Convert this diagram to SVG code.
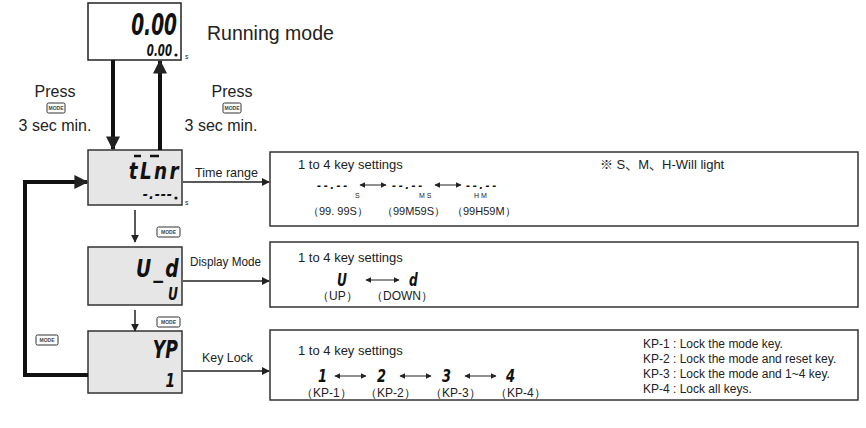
<svg xmlns="http://www.w3.org/2000/svg" width="866" height="428" viewBox="0 0 866 428">
<style>
.t{font-family:"Liberation Sans",Arial,sans-serif;fill:#222}
.lbl{font-family:"Liberation Sans",Arial,sans-serif;fill:#222;font-size:13px}
.seg{font-family:"DejaVu Sans",sans-serif;font-weight:bold;font-style:italic;fill:#111}
.disp{fill:#e6e6e6;stroke:#333;stroke-width:1.5}
.box{fill:#fff;stroke:#333;stroke-width:1.5}
.btn{fill:#fff;stroke:#333;stroke-width:1}
.btnt{font-family:"Liberation Sans",Arial,sans-serif;font-size:5px;font-weight:bold;fill:#444}
.con{stroke:#222;stroke-width:1.5;fill:none}
.dbl{stroke:#222;stroke-width:1;fill:none}
</style>
<defs>
<marker id="ah" viewBox="0 0 10 10" refX="9" refY="5" markerWidth="8" markerHeight="8" markerUnits="userSpaceOnUse" orient="auto"><path d="M0,0 L10,5 L0,10 z" fill="#222"/></marker>
<marker id="ahb" viewBox="0 0 10 10" refX="9" refY="5" markerWidth="14" markerHeight="14" markerUnits="userSpaceOnUse" orient="auto"><path d="M0,0 L10,5 L0,10 z" fill="#222"/></marker>
<marker id="ahs" viewBox="0 0 10 10" refX="9" refY="5" markerWidth="6" markerHeight="6" markerUnits="userSpaceOnUse" orient="auto-start-reverse"><path d="M0,0 L10,5 L0,10 z" fill="#222"/></marker>
</defs>

<g id="running">
<rect x="88" y="3" width="93" height="57" fill="#fff" stroke="#222" stroke-width="1.5"/>
<text class="seg" font-size="30" text-anchor="end" transform="translate(177 35) scale(0.62 1)">0.00</text>
<text class="seg" font-size="15" text-anchor="end" transform="translate(172 56) scale(0.68 1)">0.00</text>
<circle cx="176" cy="55" r="1.6" fill="#111"/>
<text class="t" x="185" y="59" font-size="7">s</text>
<text class="t" x="207" y="40" font-size="19.5">Running mode</text>
</g>

<g id="press-left">
<text class="t" x="55" y="97" font-size="16" text-anchor="middle">Press</text>
<rect class="btn" x="47" y="103" width="18" height="10" rx="1.5"/>
<text class="btnt" x="56" y="110" text-anchor="middle">MODE</text>
<text class="t" x="55" y="131" font-size="16" text-anchor="middle">3 sec min.</text>
</g>
<g id="press-right">
<text class="t" x="232" y="97" font-size="16" text-anchor="middle">Press</text>
<rect class="btn" x="223" y="103" width="18" height="10" rx="1.5"/>
<text class="btnt" x="232" y="110" text-anchor="middle">MODE</text>
<text class="t" x="221" y="131" font-size="16" text-anchor="middle">3 sec min.</text>
</g>

<g id="time-range">
<rect class="disp" x="88" y="150" width="94" height="55"/>
<text class="seg" font-size="23" text-anchor="end" letter-spacing="3" transform="translate(181 179) scale(0.8 1)">tLnr</text>
<line x1="134" y1="156" x2="141" y2="156" stroke="#111" stroke-width="2.5"/>
<line x1="150" y1="156" x2="159" y2="156" stroke="#111" stroke-width="2.5"/>
<text class="seg" font-size="14" text-anchor="end" letter-spacing="1" transform="translate(173 199) scale(0.9 1)">-.---</text>
<circle cx="176" cy="198" r="1.6" fill="#111"/>
<text class="t" x="185" y="205" font-size="7">s</text>
</g>

<g id="display-mode">
<rect class="disp" x="88" y="247" width="94" height="58"/>
<text class="seg" font-size="24" text-anchor="end" letter-spacing="3" transform="translate(181 277) scale(0.78 1)">U_d</text>
<text class="seg" font-size="17" text-anchor="end" transform="translate(178 300) scale(0.72 1)">U</text>
</g>

<g id="key-lock">
<rect class="disp" x="88" y="331" width="94" height="62"/>
<text class="seg" font-size="24" text-anchor="end" transform="translate(178 358) scale(0.72 1)">YP</text>
<text class="seg" font-size="19" text-anchor="end" transform="translate(175 387) scale(0.72 1)">1</text>
</g>

<g id="box-time">
<rect class="box" x="270" y="152" width="588" height="74"/>
<text class="t" x="298" y="169" font-size="13">1 to 4 key settings</text>
<text x="600" y="169" font-size="13" fill="#222" font-family="Liberation Sans, Noto Sans CJK SC, sans-serif">※ S、M、H-Will light</text>
<text class="seg" x="317" y="189" font-size="10" letter-spacing="2.5">--.--</text>
<text class="seg" x="392" y="189" font-size="10" letter-spacing="2.5">--.--</text>
<text class="seg" x="466" y="189" font-size="10" letter-spacing="2.5">--.--</text>
<line class="dbl" x1="360" y1="185" x2="386" y2="185" marker-start="url(#ahs)" marker-end="url(#ahs)"/>
<line class="dbl" x1="435" y1="185" x2="461" y2="185" marker-start="url(#ahs)" marker-end="url(#ahs)"/>
<text class="t" x="355" y="198" font-size="7">S</text>
<text class="t" x="419" y="198" font-size="7">M S</text>
<text class="t" x="474" y="198" font-size="7">H M</text>
<text class="t" x="308" y="215" font-size="11">（99. 99S）</text>
<text class="t" x="382" y="215" font-size="11">（99M59S）</text>
<text class="t" x="452" y="215" font-size="11">（99H59M）</text>
</g>

<g id="box-display">
<rect class="box" x="270" y="242" width="588" height="65"/>
<text class="t" x="298" y="262" font-size="13">1 to 4 key settings</text>
<text class="seg" font-size="17" transform="translate(337 286) scale(0.72 1)">U</text>
<text class="seg" font-size="17" transform="translate(409 286) scale(0.72 1)">d</text>
<line class="dbl" x1="366" y1="280" x2="399" y2="280" marker-start="url(#ahs)" marker-end="url(#ahs)"/>
<text class="t" x="317" y="300" font-size="12">（UP）</text>
<text class="t" x="371" y="300" font-size="12">（DOWN）</text>
</g>

<g id="box-keylock">
<rect class="box" x="270" y="330" width="588" height="70"/>
<text class="t" x="298" y="355" font-size="13">1 to 4 key settings</text>
<text class="seg" font-size="18" transform="translate(318 382) scale(0.72 1)">1</text>
<text class="seg" font-size="18" transform="translate(377 382) scale(0.72 1)">2</text>
<text class="seg" font-size="18" transform="translate(442 382) scale(0.72 1)">3</text>
<text class="seg" font-size="18" transform="translate(506 382) scale(0.72 1)">4</text>
<line class="dbl" x1="335" y1="376" x2="366" y2="376" marker-start="url(#ahs)" marker-end="url(#ahs)"/>
<line class="dbl" x1="400" y1="376" x2="431" y2="376" marker-start="url(#ahs)" marker-end="url(#ahs)"/>
<line class="dbl" x1="465" y1="376" x2="496" y2="376" marker-start="url(#ahs)" marker-end="url(#ahs)"/>
<text class="t" x="301" y="397" font-size="12">（KP-1）</text>
<text class="t" x="365" y="397" font-size="12">（KP-2）</text>
<text class="t" x="430" y="397" font-size="12">（KP-3）</text>
<text class="t" x="495" y="397" font-size="12">（KP-4）</text>
<text class="t" x="643" y="348" font-size="12">KP-1 : Lock the mode key.</text>
<text class="t" x="643" y="363" font-size="12">KP-2 : Lock the mode and reset key.</text>
<text class="t" x="643" y="378" font-size="12">KP-3 : Lock the mode and 1~4 key.</text>
<text class="t" x="643" y="393" font-size="12">KP-4 : Lock all keys.</text>
</g>

<g id="connectors">
<line x1="113" y1="60" x2="113" y2="149" stroke="#111" stroke-width="4" marker-end="url(#ahb)"/>
<line x1="160" y1="150" x2="160" y2="61" stroke="#111" stroke-width="4" marker-end="url(#ahb)"/>
<line class="con" x1="183" y1="182" x2="269" y2="182" marker-end="url(#ah)"/>
<text class="lbl" x="195" y="177" font-size="14" textLength="63" lengthAdjust="spacingAndGlyphs">Time range</text>
<line class="con" x1="135" y1="210" x2="135" y2="242" marker-end="url(#ah)"/>
<rect class="btn" x="157" y="227" width="23" height="10" rx="1.5"/>
<text class="btnt" x="168.5" y="234" text-anchor="middle">MODE</text>
<line class="con" x1="183" y1="281" x2="269" y2="281" marker-end="url(#ah)"/>
<text class="lbl" x="190" y="266" font-size="14" textLength="71" lengthAdjust="spacingAndGlyphs">Display Mode</text>
<line class="con" x1="135" y1="310" x2="135" y2="331" marker-end="url(#ah)"/>
<rect class="btn" x="157" y="317" width="23" height="10" rx="1.5"/>
<text class="btnt" x="168.5" y="324" text-anchor="middle">MODE</text>
<line class="con" x1="183" y1="371" x2="269" y2="371" marker-end="url(#ah)"/>
<text class="lbl" x="202" y="362" font-size="14" textLength="51" lengthAdjust="spacingAndGlyphs">Key Lock</text>
<polyline points="88,375 25,375 25,182 87,182" stroke="#111" stroke-width="4" fill="none" marker-end="url(#ahb)"/>
<rect class="btn" x="36" y="335" width="22" height="10" rx="1.5"/>
<text class="btnt" x="47" y="342" text-anchor="middle">MODE</text>
</g>
</svg>
